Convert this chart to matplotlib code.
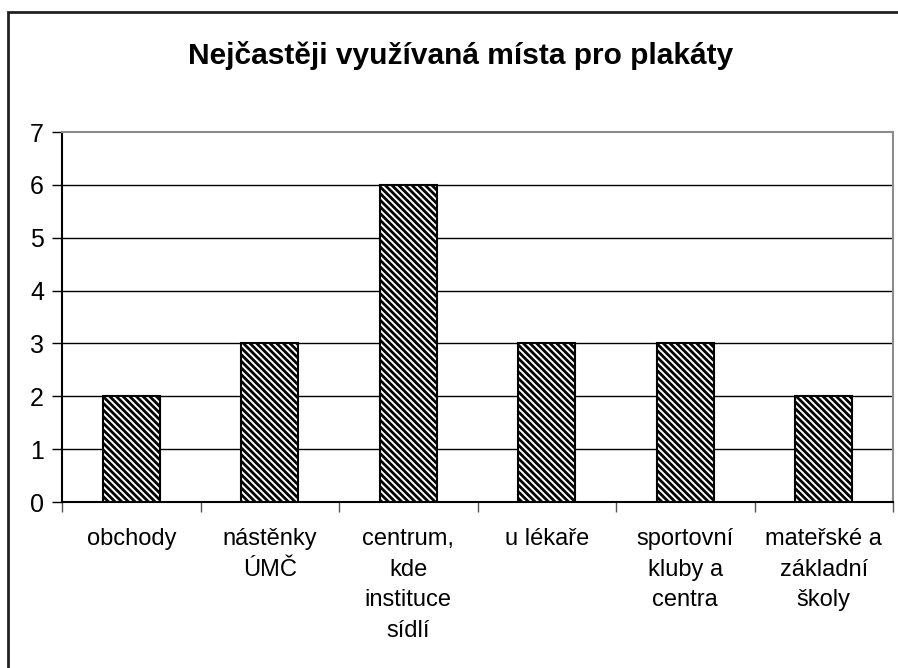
import matplotlib.pyplot as plt
import matplotlib.patches as mpatches
import numpy as np

plt.rcParams['font.family'] = ['Liberation Sans', 'DejaVu Sans']
plt.rcParams['hatch.linewidth'] = 2.0

categories = ['obchody', 'nástěnky\nÚMČ', 'centrum,\nkde\ninstituce\nsídlí',
              'u lékaře', 'sportovní\nkluby a\ncentra', 'mateřské a\nzákladní\nškoly']
values = [2, 3, 6, 3, 3, 2]
title = 'Nejčastěji využívaná místa pro plakáty'

fig = plt.figure(figsize=(8.98, 6.68), dpi=100)
ax = fig.add_axes([62/898, 166/668, 831/898, 370/668])

x = np.arange(len(categories))
ax.bar(x, values, width=0.41, color='white', edgecolor='black',
       hatch='\\' * 5, linewidth=1.5, zorder=3)

ax.set_xlim(-0.5, len(categories) - 0.5)
ax.set_ylim(0, 7)
ax.set_yticks(range(0, 8))
for yv in range(1, 7):
    ax.axhline(yv, color='black', lw=1.0, zorder=1)

# category borders get the tick marks, labels sit in between
ax.set_xticks(np.arange(-0.5, len(categories), 1.0))
ax.set_xticklabels([])
ax.set_xticks(x, minor=True)
ax.set_xticklabels(categories, minor=True, fontsize=17, linespacing=1.5, va='top')
ax.tick_params(axis='x', which='minor', length=0, pad=19)
ax.tick_params(axis='x', which='major', length=7, width=1, color='#555555', direction='out')
ax.tick_params(axis='y', length=7, width=1, labelsize=18, pad=6)

ax.spines['left'].set_color('black')
ax.spines['bottom'].set_color('black')
ax.spines['top'].set_color('#8c8c8c')
ax.spines['right'].set_color('#8c8c8c')
for s in ax.spines.values():
    s.set_linewidth(1.5)

fig.text(0.513, 1 - 55/668, title, ha='center', va='center', fontsize=21.5, fontweight='bold')

frame = mpatches.Rectangle((8/898, -0.1), 1.2, 1.1 - 12/668, transform=fig.transFigure,
                           fill=False, edgecolor='#222222', linewidth=2.0)
fig.patches.append(frame)

fig.savefig('out.png', dpi=100)
